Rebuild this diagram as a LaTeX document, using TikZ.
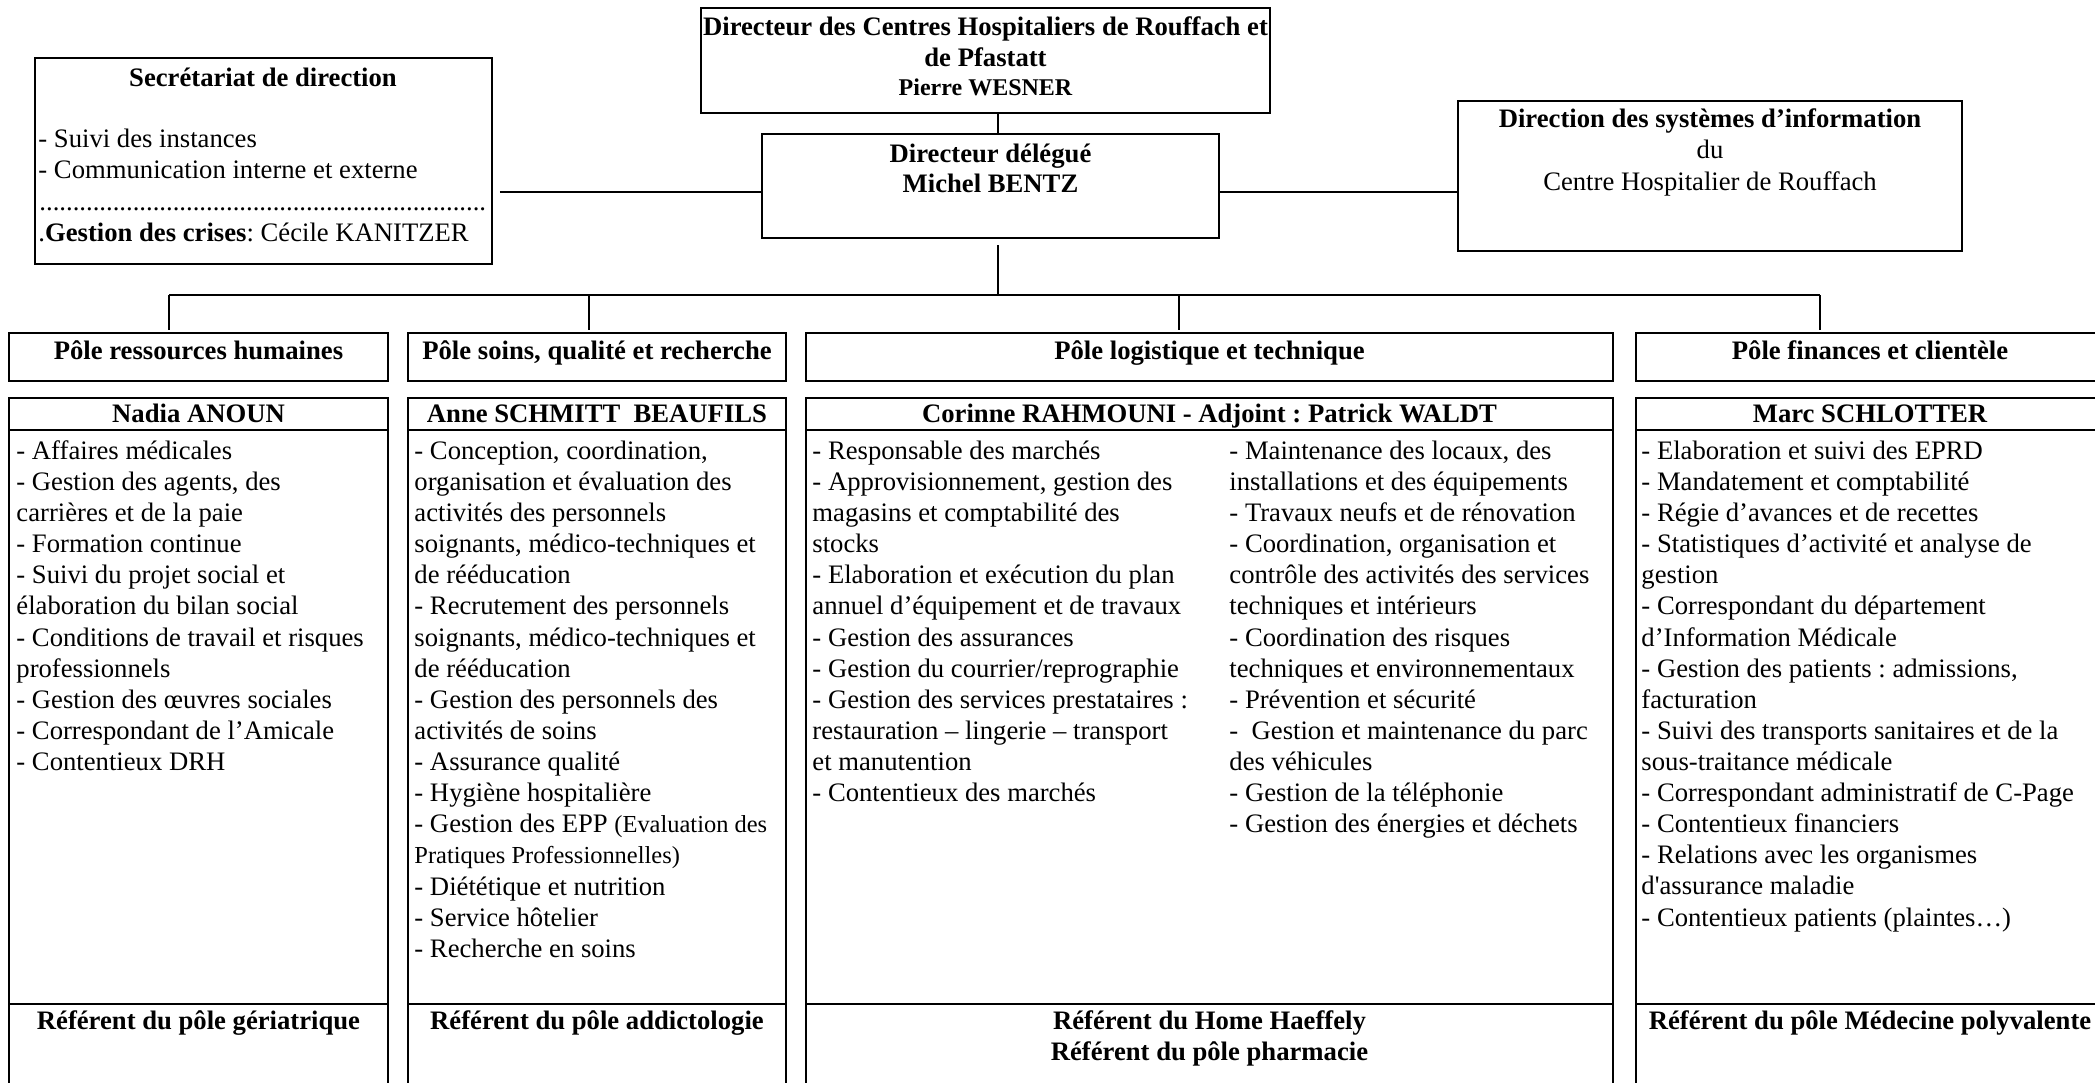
\documentclass[tikz,border=0pt]{standalone}
\usepackage{fontspec}
\setmainfont{Liberation Serif}
\usetikzlibrary{positioning, fit}

\tikzset{
  boite/.style={draw, line width=1pt, inner sep=0pt},
  lien/.style={line width=1pt},
  titre/.style={font=\fontsize{12}{14}\selectfont\bfseries, inner sep=0pt, anchor=base},
  libelle/.style={font=\fontsize{12}{14}\selectfont, inner sep=0pt, anchor=base},
  texte/.style={font=\fontsize{12}{14}\selectfont, inner sep=0pt, anchor=base west},
  liste/.style={font=\fontsize{12}{14}\selectfont, inner sep=0pt, align=left, anchor=north west},
}
\newcommand{\petit}{\fontsize{11}{14}\selectfont}
\frenchspacing

\begin{document}
\begin{tikzpicture}[x=0.45pt,y=-0.45pt]
\useasboundingbox (0,0) rectangle (2095,1082);
\clip (0,0) rectangle (2095,1082);

% direction
\node[boite, fit={(701,8) (1270,113)}] (dir) {};
\node[titre] (dir1) at (985.5,35) {Directeur des Centres Hospitaliers de Rouffach et};
\node[titre] (dir2) at (985.5,66) {de Pfastatt};
\node[titre, font=\fontsize{10.8}{13}\selectfont\bfseries] (dir3) at (985.5,95) {Pierre WESNER};

\node[boite, fit={(762,134) (1219,238)}] (dlg) {};
\node[titre] (dlg1) at (990.5,162) {Directeur délégué};
\node[titre] (dlg2) at (990.5,192) {Michel BENTZ};

% secretariat
\node[boite, fit={(35,58) (492,264)}] (sec) {};
\node[titre] (sec0) at (263,86) {Secrétariat de direction};
\node[texte] (sec1) at (38,147) {- Suivi des instances};
\node[texte] (sec2) at (38,178) {- Communication interne et externe};
\node[texte] (sec3) at (39,210) {\makebox[201.6pt][l]{\leaders\hbox{.}\hfill}};
\node[texte] (sec4) at (38,241) {.\textbf{Gestion des crises}: Cécile KANITZER};

% systemes d'information
\node[boite, fit={(1458,101) (1962,251)}] (dsi) {};
\node[titre] (dsi1) at (1710,127) {Direction des systèmes d’information};
\node[libelle] (dsi2) at (1710,158) {du};
\node[libelle] (dsi3) at (1710,190) {Centre Hospitalier de Rouffach};

% les poles
\node[boite, fit={(9,333) (388,381)}] (prh) {};
\node[titre] (prh1) at (198.5,359) {Pôle ressources humaines};
\node[boite, fit={(408,333) (786,381)}] (psq) {};
\node[titre] (psq1) at (597,359) {Pôle soins, qualité et recherche};
\node[boite, fit={(806,333) (1613,381)}] (plt) {};
\node[titre] (plt1) at (1209.5,359) {Pôle logistique et technique};
\node[boite, fit={(1636,333) (2104,381)}] (pfc) {};
\node[titre] (pfc1) at (1870,359) {Pôle finances et clientèle};

% colonne RH
\node[boite, fit={(9,398) (388,430)}] (nrh) {};
\node[boite, fit={(9,430) (388,1004)}] (crh) {};
\node[boite, fit={(9,1004) (388,1110)}] (rrh) {};
\node[titre] (nrh1) at (198.5,422) {Nadia ANOUN};
\node[liste] (lrh) at (16,437.2) {\strut- Affaires médicales\\
- Gestion des agents, des\\
carrières et de la paie\\
- Formation continue\\
- Suivi du projet social et\\
élaboration du bilan social\\
- Conditions de travail et risques\\
professionnels\\
- Gestion des œuvres sociales\\
- Correspondant de l’Amicale\\
- Contentieux DRH};
\node[titre] (rrh1) at (198.5,1029) {Référent du pôle gériatrique};

% colonne soins
\node[boite, fit={(408,398) (786,430)}] (nsq) {};
\node[boite, fit={(408,430) (786,1004)}] (csq) {};
\node[boite, fit={(408,1004) (786,1110)}] (rsq) {};
\node[titre] (nsq1) at (597,422) {Anne SCHMITT\ \ BEAUFILS};
\node[liste] (lsq) at (414,437.2) {\strut- Conception, coordination,\\
organisation et évaluation des\\
activités des personnels\\
soignants, médico-techniques et\\
de rééducation\\
- Recrutement des personnels\\
soignants, médico-techniques et\\
de rééducation\\
- Gestion des personnels des\\
activités de soins\\
- Assurance qualité\\
- Hygiène hospitalière\\
- Gestion des EPP {\petit (Evaluation des}\\
{\petit Pratiques Professionnelles)}\\
- Diététique et nutrition\\
- Service hôtelier\\
- Recherche en soins};
\node[titre] (rsq1) at (597,1029) {Référent du pôle addictologie};

% colonne logistique
\node[boite, fit={(806,398) (1613,430)}] (nlt) {};
\node[boite, fit={(806,430) (1613,1004)}] (clt) {};
\node[boite, fit={(806,1004) (1613,1110)}] (rlt) {};
\node[titre] (nlt1) at (1209.5,422) {Corinne RAHMOUNI - Adjoint : Patrick WALDT};
\node[liste] (llt) at (812,437.2) {\strut- Responsable des marchés\\
- Approvisionnement, gestion des\\
magasins et comptabilité des\\
stocks\\
- Elaboration et exécution du plan\\
annuel d’équipement et de travaux\\
- Gestion des assurances\\
- Gestion du courrier/reprographie\\
- Gestion des services prestataires :\\
restauration – lingerie – transport\\
et manutention\\
- Contentieux des marchés};
\node[liste] (mlt) at (1229,437.2) {\strut- Maintenance des locaux, des\\
installations et des équipements\\
- Travaux neufs et de rénovation\\
- Coordination, organisation et\\
contrôle des activités des services\\
techniques et intérieurs\\
- Coordination des risques\\
techniques et environnementaux\\
- Prévention et sécurité\\
- \ Gestion et maintenance du parc\\
des véhicules\\
- Gestion de la téléphonie\\
- Gestion des énergies et déchets};
\node[titre] (rlt1) at (1209.5,1029) {Référent du Home Haeffely};
\node[titre] (rlt2) at (1209.5,1060) {Référent du pôle pharmacie};

% colonne finances
\node[boite, fit={(1636,398) (2104,430)}] (nfc) {};
\node[boite, fit={(1636,430) (2104,1004)}] (cfc) {};
\node[boite, fit={(1636,1004) (2104,1110)}] (rfc) {};
\node[titre] (nfc1) at (1870,422) {Marc SCHLOTTER};
\node[liste] (lfc) at (1641,437.2) {\strut- Elaboration et suivi des EPRD\\
- Mandatement et comptabilité\\
- Régie d’avances et de recettes\\
- Statistiques d’activité et analyse de\\
gestion\\
- Correspondant du département\\
d’Information Médicale\\
- Gestion des patients : admissions,\\
facturation\\
- Suivi des transports sanitaires et de la\\
sous-traitance médicale\\
- Correspondant administratif de C-Page\\
- Contentieux financiers\\
- Relations avec les organismes\\
d\textquotesingle assurance maladie\\
- Contentieux patients (plaintes…)};
\node[titre] (rfc1) at (1870,1029) {Référent du pôle Médecine polyvalente};

% les liens
\coordinate (axe) at (998,0);
\coordinate (ligne) at (0,192);
\coordinate (bus1) at (169,295);
\coordinate (bus2) at (589,295);
\coordinate (bus3) at (1179,295);
\coordinate (bus4) at (1820,295);

\draw[lien] (dir.south -| axe) -- (dlg.north -| axe);
\draw[lien, line width=1.2pt, shorten <=3pt] (sec.east |- ligne) -- (dlg.west |- ligne);
\draw[lien, line width=1.2pt] (dlg.east |- ligne) -- (dsi.west |- ligne);
\draw[lien, shorten <=2.7pt] (dlg.south -| axe) -- (axe |- bus1);
\draw[lien, line width=1.2pt] (bus1) -- (bus4);
\draw[lien, shorten >=1pt] (bus1) -- (bus1 |- prh.north);
\draw[lien, shorten >=1pt] (bus2) -- (bus2 |- psq.north);
\draw[lien, shorten >=1pt] (bus3) -- (bus3 |- plt.north);
\draw[lien, shorten >=1pt] (bus4) -- (bus4 |- pfc.north);

\end{tikzpicture}
\end{document}
